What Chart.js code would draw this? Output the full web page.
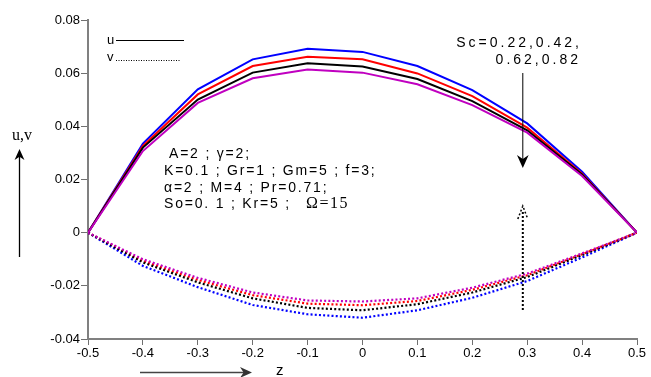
<!DOCTYPE html>
<html>
<head>
<meta charset="utf-8">
<script src="https://cdn.jsdelivr.net/npm/chart.js@4.4.1/dist/chart.umd.min.js"></script>
<style>
  html, body { margin: 0; padding: 0; background: #fff; }
  #wrap { width: 651px; height: 377px; }
</style>
</head>
<body>
<div id="wrap"><canvas id="chart" width="651" height="377"></canvas></div>
<script>
// z positions across the channel
const zValues = [-0.5, -0.4, -0.3, -0.2, -0.1, 0, 0.1, 0.2, 0.3, 0.4, 0.5];
const scLabels = ['0.22', '0.42', '0.62', '0.82'];

// u (solid) for Sc = 0.22, 0.42, 0.62, 0.82
const uSc022 = [0, 0.0335, 0.0539, 0.0652, 0.0692, 0.0680, 0.0627, 0.0536, 0.0411, 0.0229, 0];
const uSc042 = [0, 0.0326, 0.0520, 0.0627, 0.0662, 0.0652, 0.0599, 0.0514, 0.0395, 0.0222, 0];
const uSc062 = [0, 0.0320, 0.0501, 0.0602, 0.0637, 0.0625, 0.0578, 0.0495, 0.0385, 0.0219, 0];
const uSc082 = [0, 0.0307, 0.0488, 0.0581, 0.0614, 0.0602, 0.0558, 0.0480, 0.0376, 0.0213, 0];

// v (dotted) for Sc = 0.22, 0.42, 0.62, 0.82
const vSc022 = [0, -0.0125, -0.0205, -0.0272, -0.0307, -0.0320, -0.0292, -0.0245, -0.0182, -0.0093, 0];
const vSc042 = [0, -0.0106, -0.0178, -0.0235, -0.0267, -0.0273, -0.0257, -0.0215, -0.0160, -0.0081, 0];
const vSc062 = [0, -0.0112, -0.0187, -0.0247, -0.0283, -0.0292, -0.0269, -0.0225, -0.0167, -0.0084, 0];
const vSc082 = [0, -0.0100, -0.0170, -0.0225, -0.0255, -0.0259, -0.0247, -0.0207, -0.0154, -0.0078, 0];

const xTickLabels = ['-0.5', '-0.4', '-0.3', '-0.2', '-0.1', '0', '0.1', '0.2', '0.3', '0.4', '0.5'];
const yTickLabels = ['-0.04', '-0.02', '0', '0.02', '0.04', '0.06', '0.08'];

const colors = ['#0000ff', '#ff0000', '#000000', '#c000c0'];
const FONT = '"Liberation Sans", Arial, sans-serif';
const SERIF = '"Liberation Serif", "Times New Roman", serif';

const toPoints = arr => arr.map((y, i) => ({x: zValues[i], y: y}));

const uSeries = [uSc022, uSc042, uSc062, uSc082];
const vSeries = [vSc022, vSc042, vSc062, vSc082];

const datasets = [];
// magenta first so it sits on top, like the original
for (let i = 3; i >= 0; i--) {
    datasets.push({
        label: 'u Sc=' + scLabels[i],
        data: toPoints(uSeries[i]),
        borderColor: colors[i],
        borderWidth: 2,
        pointRadius: 0,
        tension: 0
    });
}
for (let i = 3; i >= 0; i--) {
    datasets.push({
        label: 'v Sc=' + scLabels[i],
        data: toPoints(vSeries[i]),
        borderColor: colors[i],
        borderWidth: 2.2,
        borderDash: [2, 2.2],
        pointRadius: 0,
        tension: 0
    });
}

function arrowHead(ctx, x, y, dir, size, fill) {
    // dir: 'down', 'up', 'right'
    ctx.beginPath();
    if (dir === 'down') {
        ctx.moveTo(x, y);
        ctx.lineTo(x - size * 0.45, y - size);
        ctx.lineTo(x, y - size * 0.7);
        ctx.lineTo(x + size * 0.45, y - size);
    } else if (dir === 'up') {
        ctx.moveTo(x, y);
        ctx.lineTo(x - size * 0.45, y + size);
        ctx.lineTo(x, y + size * 0.7);
        ctx.lineTo(x + size * 0.45, y + size);
    } else {
        ctx.moveTo(x, y);
        ctx.lineTo(x - size, y - size * 0.45);
        ctx.lineTo(x - size * 0.7, y);
        ctx.lineTo(x - size, y + size * 0.45);
    }
    ctx.closePath();
    ctx.fillStyle = fill;
    ctx.fill();
}

const annotations = {
    id: 'annotations',
    afterDraw(chart) {
        const ctx = chart.ctx;
        const xs = chart.scales.x;
        ctx.save();

        // legend u / v
        ctx.fillStyle = '#000';
        ctx.font = '13px ' + FONT;
        ctx.textBaseline = 'middle';
        ctx.textAlign = 'left';
        ctx.fillText('u', 107, 40);
        ctx.fillText('v', 107, 57);
        ctx.strokeStyle = '#000';
        ctx.lineWidth = 1;
        ctx.beginPath();
        ctx.moveTo(116, 40.5);
        ctx.lineTo(184, 40.5);
        ctx.stroke();
        ctx.setLineDash([1, 1.5]);
        ctx.beginPath();
        ctx.moveTo(116, 60.5);
        ctx.lineTo(181, 60.5);
        ctx.stroke();
        ctx.setLineDash([]);

        // parameter block
        ctx.font = '14px ' + FONT;
        ctx.letterSpacing = '1.8px';
        ctx.fillText('A=2 ; \u03b3=2;', 169, 154);
        ctx.fillText('K=0.1 ; Gr=1 ; Gm=5 ; f=3;', 164, 171);
        ctx.fillText('\u03b1=2 ; M=4 ; Pr=0.71;', 164, 188);
        ctx.fillText('So=0. 1 ; Kr=5 ;', 164, 204);
        ctx.font = '16px ' + SERIF;
        ctx.letterSpacing = '1.5px';
        ctx.fillText('\u03a9=15', 306, 204);

        // Sc label and arrows
        const ax = xs.getPixelForValue(0.292);
        ctx.font = '14px ' + FONT;
        ctx.letterSpacing = '3px';
        ctx.textAlign = 'right';
        ctx.fillText('Sc=0.22,0.42,', 582, 43);
        ctx.fillText('0.62,0.82', 581, 60);
        ctx.letterSpacing = '0px';

        ctx.strokeStyle = '#000';
        ctx.lineWidth = 1;
        ctx.beginPath();
        ctx.moveTo(ax, 73);
        ctx.lineTo(ax, 160);
        ctx.stroke();
        arrowHead(ctx, ax, 168, 'down', 13, '#000');

        // dotted arrow up
        ctx.lineWidth = 2;
        ctx.setLineDash([2, 2]);
        ctx.beginPath();
        ctx.moveTo(ax, 310);
        ctx.lineTo(ax, 210);
        ctx.stroke();
        ctx.lineWidth = 1.5;
        ctx.beginPath();
        ctx.moveTo(ax - 5, 219);
        ctx.lineTo(ax, 206);
        ctx.lineTo(ax + 5, 219);
        ctx.stroke();
        ctx.setLineDash([]);

        // axis titles with arrows
        ctx.textAlign = 'left';
        ctx.font = '16px ' + SERIF;
        ctx.fillStyle = '#000';
        ctx.fillText('u,v', 12, 136);
        ctx.lineWidth = 1.3;
        ctx.beginPath();
        ctx.moveTo(19.5, 257);
        ctx.lineTo(19.5, 156);
        ctx.stroke();
        arrowHead(ctx, 19.5, 149, 'up', 11, '#000');

        ctx.font = '15px ' + FONT;
        ctx.fillText('z', 276, 371);
        ctx.strokeStyle = '#444';
        ctx.lineWidth = 1.3;
        ctx.beginPath();
        ctx.moveTo(140, 372.5);
        ctx.lineTo(244, 372.5);
        ctx.stroke();
        arrowHead(ctx, 252, 372.5, 'right', 12, '#333');

        ctx.restore();
    }
};

new Chart(document.getElementById('chart').getContext('2d'), {
    type: 'line',
    data: {datasets: datasets},
    options: {
        responsive: false,
        animation: false,
        layout: {padding: {top: 20, right: 14, left: 0, bottom: 0}},
        plugins: {legend: {display: false}, tooltip: {enabled: false}},
        scales: {
            x: {
                type: 'linear',
                min: -0.5,
                max: 0.5,
                afterFit: scale => { scale.height = 38; },
                ticks: {
                    stepSize: 0.1,
                    autoSkip: false,
                    maxRotation: 0,
                    padding: 1,
                    color: '#000',
                    font: {family: FONT, size: 13},
                    callback: (v, i) => xTickLabels[i]
                },
                grid: {drawOnChartArea: false, drawTicks: true, tickLength: 6, color: '#707070', lineWidth: 1},
                border: {display: true, color: '#808080', width: 2}
            },
            y: {
                type: 'linear',
                min: -0.04,
                max: 0.08,
                afterFit: scale => { scale.width = 88; },
                ticks: {
                    stepSize: 0.02,
                    autoSkip: false,
                    padding: 1,
                    color: '#000',
                    font: {family: FONT, size: 13},
                    callback: (v, i) => yTickLabels[i]
                },
                grid: {drawOnChartArea: false, drawTicks: true, tickLength: 7, color: '#707070', lineWidth: 1},
                border: {display: true, color: '#808080', width: 2}
            }
        }
    },
    plugins: [annotations]
});
</script>
</body>
</html>
